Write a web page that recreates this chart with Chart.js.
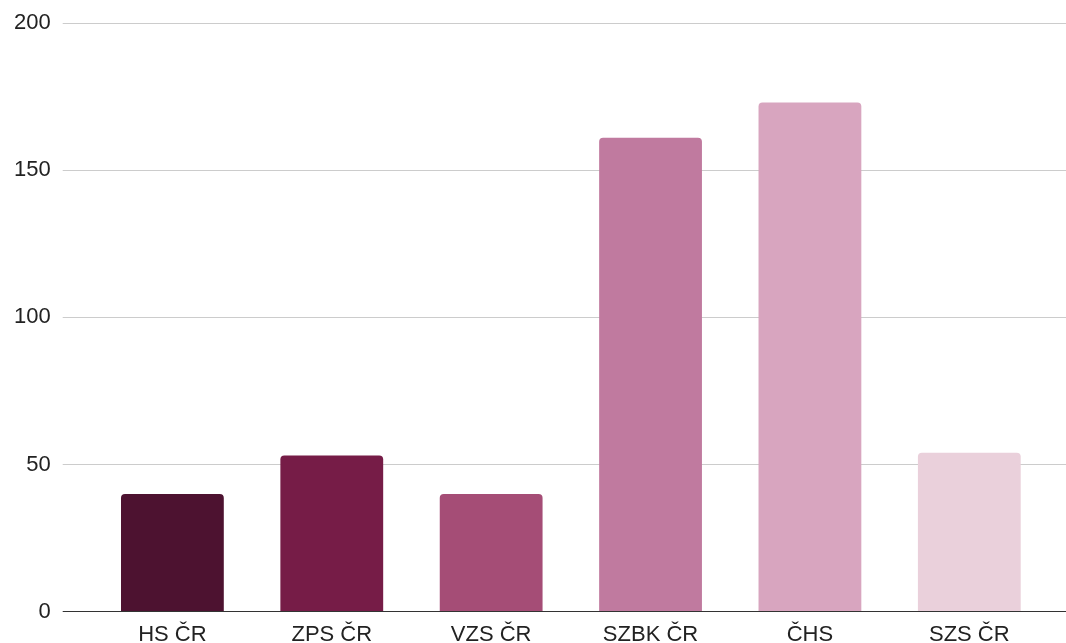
<!DOCTYPE html>
<html>
<head>
<meta charset="utf-8">
<script src="https://cdn.jsdelivr.net/npm/chart.js@4/dist/chart.umd.min.js"></script>
<style>
  html, body { margin: 0; padding: 0; background: #fff; }
  #wrap { width: 1066px; height: 643px; }
</style>
</head>
<body>
<div id="wrap"><canvas id="chart"></canvas></div>
<script>
var categories = ['HS ČR', 'ZPS ČR', 'VZS ČR', 'SZBK ČR', 'ČHS', 'SZS ČR'];
var values = [40, 53, 40, 161, 173, 54];
var barColors = ['#4d1230', '#761c47', '#a54d76', '#c07a9f', '#d8a5bf', '#ead0db'];
var yTicks = [0, 50, 100, 150, 200];

var gridColor = function(ctx) {
    return ctx.tick && ctx.tick.value === 0 ? '#333333' : '#cccccc';
};

var ctx = document.getElementById('chart').getContext('2d');
var chart = new Chart(ctx, {
    type: 'bar',
    data: {
        labels: categories,
        datasets: [{
            data: values,
            backgroundColor: barColors,
            borderRadius: { topLeft: 4, topRight: 4 },
            borderSkipped: 'bottom',
            barPercentage: 0.645,
            categoryPercentage: 1
        }]
    },
    options: {
        responsive: true,
        maintainAspectRatio: false,
        animation: false,
        layout: { padding: { top: 0, left: 2, right: 0, bottom: -7 } },
        plugins: {
            legend: { display: false },
            tooltip: { enabled: false }
        },
        scales: {
            x: {
                grid: { display: false },
                border: { display: false },
                ticks: {
                    color: '#222',
                    padding: 2,
                    font: { family: 'Liberation Sans, Arial, sans-serif', size: 22 }
                }
            },
            y: {
                min: 0,
                max: 200,
                afterBuildTicks: function(axis) {
                    axis.ticks = yTicks.map(function(v) { return { value: v }; });
                },
                border: { display: false },
                grid: {
                    color: gridColor,
                    lineWidth: 1,
                    tickLength: 30
                },
                ticks: {
                    color: '#222',
                    padding: 12,
                    font: { family: 'Liberation Sans, Arial, sans-serif', size: 22, lineHeight: 1 }
                }
            },
            yRight: {
                position: 'right',
                min: 0,
                max: 200,
                afterBuildTicks: function(axis) {
                    axis.ticks = yTicks.map(function(v) { return { value: v }; });
                },
                border: { display: false },
                grid: {
                    color: gridColor,
                    drawOnChartArea: false,
                    tickLength: 17
                },
                ticks: { display: false }
            }
        }
    }
});
</script>
</body>
</html>
